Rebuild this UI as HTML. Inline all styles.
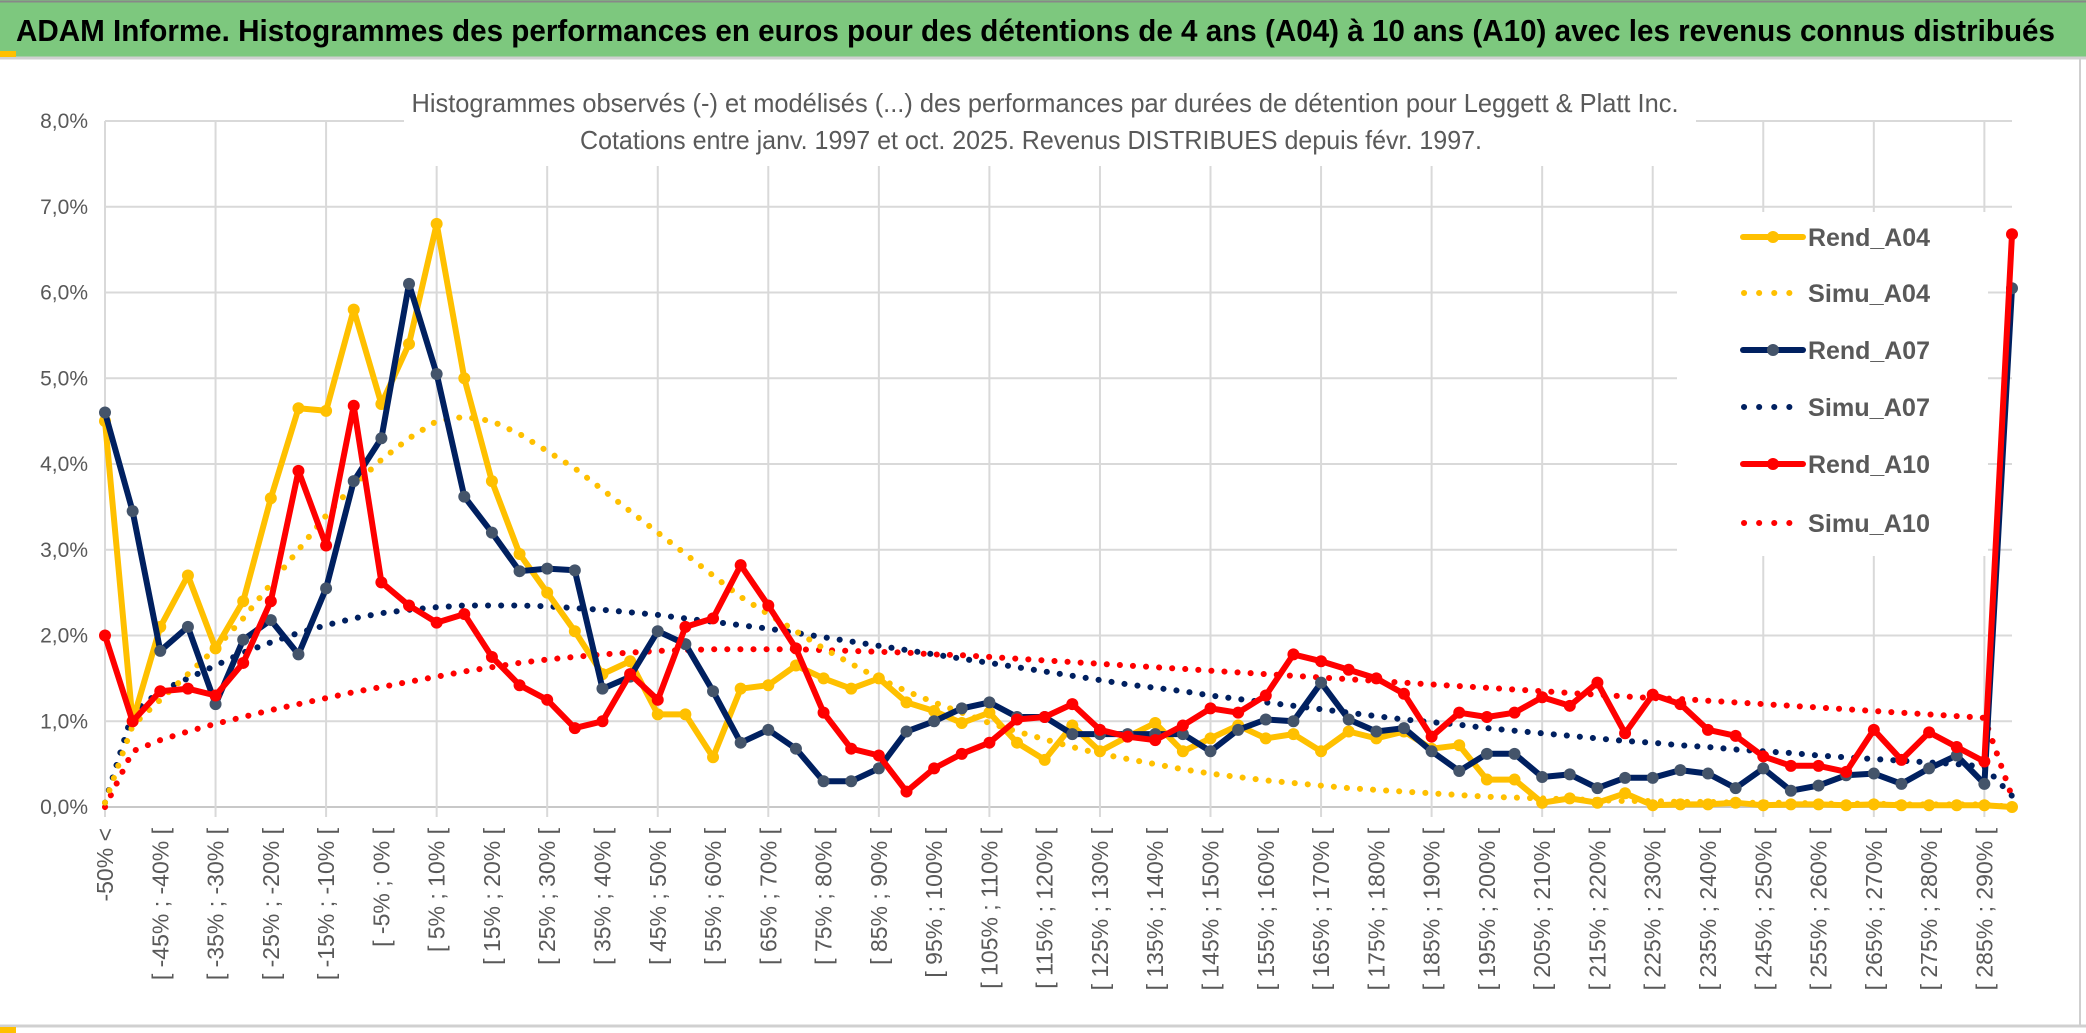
<!DOCTYPE html>
<html><head><meta charset="utf-8"><style>
html,body{margin:0;padding:0;background:#fff;}
svg{display:block;font-family:"Liberation Sans Narrow","Liberation Sans",sans-serif;}
</style></head><body>
<svg id="chart" width="2086" height="1033" viewBox="0 0 2086 1033" xmlns="http://www.w3.org/2000/svg">
<rect x="0" y="0" width="2086" height="1033" fill="#fff"/>
<rect x="0" y="0" width="2086" height="57" fill="#7DC87E"/>
<line x1="0" y1="1.5" x2="2086" y2="1.5" stroke="#888" stroke-width="2"/>
<line x1="0" y1="58" x2="2086" y2="58" stroke="#d0d0d0" stroke-width="3"/>
<rect x="0" y="51" width="16" height="6" fill="#FFC000"/>
<line x1="2080" y1="58" x2="2080" y2="1027" stroke="#cfcfcf" stroke-width="2"/>
<line x1="0" y1="1026" x2="2086" y2="1026" stroke="#d0d0d0" stroke-width="3"/>
<rect x="0" y="1027" width="16" height="6" fill="#FFC000"/>
<text x="16" y="41" font-size="31" font-weight="bold" fill="#000" textLength="2039" lengthAdjust="spacingAndGlyphs">ADAM Informe. Histogrammes des performances en euros pour des détentions de 4 ans (A04) à 10 ans (A10) avec les revenus connus distribués</text>
<g id="grid"></g>
<rect x="404" y="80" width="1292" height="86" fill="#fff"/>
<text x="1045" y="112" font-size="26" fill="#595959" text-anchor="middle" textLength="1267" lengthAdjust="spacingAndGlyphs">Histogrammes observés (-) et modélisés (...) des performances par durées de détention pour Leggett &amp; Platt Inc.</text>
<text x="1031" y="149" font-size="26" fill="#595959" text-anchor="middle" textLength="902" lengthAdjust="spacingAndGlyphs">Cotations entre janv. 1997 et oct. 2025. Revenus DISTRIBUES depuis févr. 1997.</text>
<rect x="1677" y="212" width="311" height="344" fill="#fff"/>
<g id="axes"></g>
<g id="series"></g>
<g id="legend"></g>
</svg>
<script>
const categoriesCount = 70;
const yTicks = [0,1,2,3,4,5,6,7,8];
const rendA04 = [4.5,1.0,2.1,2.7,1.85,2.4,3.6,4.65,4.62,5.8,4.7,5.4,6.8,5.0,3.8,2.95,2.5,2.05,1.55,1.7,1.08,1.08,0.58,1.38,1.42,1.65,1.5,1.38,1.5,1.22,1.12,0.98,1.1,0.75,0.55,0.95,0.65,0.82,0.98,0.65,0.8,0.95,0.8,0.85,0.65,0.88,0.8,0.88,0.68,0.72,0.32,0.32,0.05,0.1,0.05,0.16,0.02,0.03,0.03,0.05,0.02,0.03,0.03,0.02,0.03,0.02,0.02,0.02,0.02,0.0];
const rendA07 = [4.6,3.45,1.82,2.1,1.2,1.95,2.18,1.78,2.55,3.8,4.3,6.1,5.05,3.62,3.2,2.75,2.78,2.76,1.38,1.52,2.05,1.9,1.35,0.75,0.9,0.68,0.3,0.3,0.45,0.88,1.0,1.15,1.22,1.05,1.05,0.85,0.85,0.85,0.85,0.85,0.65,0.9,1.02,1.0,1.45,1.02,0.88,0.92,0.65,0.42,0.62,0.62,0.35,0.38,0.22,0.34,0.34,0.43,0.39,0.22,0.45,0.19,0.25,0.37,0.39,0.27,0.45,0.6,0.27,6.05];
const rendA10 = [2.0,1.0,1.35,1.38,1.3,1.68,2.4,3.92,3.05,4.68,2.62,2.35,2.15,2.25,1.75,1.42,1.25,0.92,1.0,1.55,1.25,2.1,2.2,2.82,2.35,1.85,1.1,0.68,0.6,0.18,0.45,0.62,0.75,1.02,1.05,1.2,0.9,0.82,0.78,0.95,1.15,1.1,1.3,1.78,1.7,1.6,1.5,1.32,0.82,1.1,1.05,1.1,1.28,1.18,1.45,0.86,1.31,1.2,0.9,0.83,0.59,0.48,0.48,0.41,0.9,0.55,0.87,0.7,0.53,6.68];
const simuA04 = [0.05,0.95,1.25,1.55,1.85,2.2,2.6,3.0,3.4,3.75,4.05,4.3,4.5,4.55,4.5,4.35,4.15,3.95,3.7,3.45,3.2,2.95,2.7,2.45,2.25,2.05,1.85,1.67,1.5,1.35,1.22,1.1,0.98,0.88,0.79,0.7,0.62,0.56,0.5,0.44,0.39,0.35,0.31,0.28,0.25,0.22,0.2,0.18,0.16,0.14,0.12,0.11,0.1,0.09,0.08,0.07,0.07,0.06,0.06,0.05,0.05,0.05,0.04,0.04,0.04,0.03,0.03,0.03,0.03,0.0];
const simuA07 = [0.05,1.1,1.35,1.5,1.65,1.8,1.92,2.03,2.12,2.2,2.26,2.3,2.33,2.35,2.35,2.35,2.34,2.32,2.3,2.27,2.24,2.2,2.16,2.12,2.08,2.03,1.98,1.93,1.88,1.83,1.78,1.73,1.68,1.63,1.58,1.53,1.48,1.43,1.39,1.35,1.3,1.26,1.22,1.18,1.14,1.1,1.06,1.02,0.99,0.96,0.92,0.89,0.86,0.83,0.8,0.77,0.75,0.72,0.7,0.67,0.65,0.63,0.6,0.58,0.56,0.54,0.52,0.5,0.47,0.13];
const simuA10 = [0.0,0.65,0.78,0.88,0.97,1.05,1.13,1.2,1.27,1.34,1.4,1.46,1.52,1.58,1.63,1.68,1.72,1.75,1.78,1.8,1.82,1.83,1.84,1.84,1.84,1.84,1.83,1.82,1.81,1.8,1.78,1.77,1.75,1.73,1.71,1.69,1.67,1.65,1.63,1.61,1.59,1.57,1.55,1.53,1.51,1.49,1.47,1.45,1.43,1.41,1.39,1.37,1.35,1.33,1.31,1.29,1.27,1.26,1.24,1.22,1.2,1.18,1.16,1.14,1.12,1.1,1.08,1.06,1.04,0.12];
const seriesNames = ["Rend_A04","Simu_A04","Rend_A07","Simu_A07","Rend_A10","Simu_A10"];

const NS="http://www.w3.org/2000/svg";
const X0=105, X1=2012, Y0=807, YTOP=121;
function xs(i){return X0+(X1-X0)*i/(categoriesCount-1);}
function ys(v){return Y0-(Y0-YTOP)*v/8;}
function mk(tag,attrs,parent){const e=document.createElementNS(NS,tag);for(const k in attrs)e.setAttribute(k,attrs[k]);parent.appendChild(e);return e;}
function catLabel(i){
  if(i===0) return "-50% <";
  if(i===categoriesCount-1) return "> 290%";
  const a=-55+5*i, b=a+5;
  return "[ "+a+"% ; "+b+"% [";
}
const grid=document.getElementById('grid');
yTicks.forEach(t=>{
  const l=mk('line',{x1:X0,y1:ys(t),x2:X1,y2:ys(t),stroke:t===0?'#c8c8c8':'#d9d9d9','stroke-width':2},grid);
  
  
});
for(let i=0;i<categoriesCount;i+=4){
  const l=mk('line',{x1:xs(i),y1:YTOP,x2:xs(i),y2:Y0+10,stroke:'#d9d9d9','stroke-width':2},grid);
  
  
}
const axes=document.getElementById('axes');
yTicks.forEach(t=>{
  const tx=mk('text',{x:88,y:ys(t)+7,'font-size':21,fill:'#595959','text-anchor':'end'},axes);
  tx.textContent=t.toFixed(1).replace('.',',')+'%';
  
  
});
for(let i=0;i<categoriesCount-1;i+=2){
  const x=xs(i)+8, y=828;
  const tx=mk('text',{x:x,y:y,'font-size':23,fill:'#595959','text-anchor':'end',transform:'rotate(-90 '+x+' '+y+')',style:'font-family:"Liberation Sans",sans-serif'},axes);
  tx.textContent=catLabel(i);
  
  
}
const series=document.getElementById('series');
function drawSimu(data,color,name){
  const p=data.map((v,i)=>xs(i).toFixed(1)+','+ys(v).toFixed(1)).join(' ');
  const pl=mk('polyline',{points:p,fill:'none',stroke:color,'stroke-width':6,'stroke-linecap':'round','stroke-dasharray':'0.1 13'},series);
  
  
}
function drawRend(data,color,mfill,name){
  const g=mk('g',{},series);
  
  
  const p=data.map((v,i)=>xs(i).toFixed(1)+','+ys(v).toFixed(1)).join(' ');
  mk('polyline',{points:p,fill:'none',stroke:color,'stroke-width':6,'stroke-linejoin':'round'},g);
  data.forEach((v,i)=>{
    const c=mk('circle',{cx:xs(i),cy:ys(v),r:6,fill:mfill},g);
    
    
  });
}
drawSimu(simuA10,'#FF0000','simu-a10-line');
drawSimu(simuA07,'#002060','simu-a07-line');
drawSimu(simuA04,'#FFC000','simu-a04-line');
drawRend(rendA04,'#FFC000','#FFC000','rend-a04-line');
drawRend(rendA07,'#002060','#44546A','rend-a07-line');
drawRend(rendA10,'#FF0000','#FF0000','rend-a10-line');

const legend=document.getElementById('legend');
const legY=[237,293,350,407,464,523];
const legColor=['#FFC000','#FFC000','#002060','#002060','#FF0000','#FF0000'];
const legMarker=['#FFC000',null,'#44546A',null,'#FF0000',null];
seriesNames.forEach((n,k)=>{
  const g=mk('g',{},legend);
  
  
  const y=legY[k];
  if(n.startsWith('Rend')){
    mk('line',{x1:1743,y1:y,x2:1803,y2:y,stroke:legColor[k],'stroke-width':6,'stroke-linecap':'round'},g);
    mk('circle',{cx:1773,cy:y,r:6,fill:legMarker[k]},g);
  } else {
    mk('line',{x1:1744,y1:y,x2:1803,y2:y,stroke:legColor[k],'stroke-width':6,'stroke-linecap':'round','stroke-dasharray':'0.1 15'},g);
  }
  const t=mk('text',{x:1808,y:y+9,'font-size':25,'font-weight':'bold',fill:'#595959',textLength:122,lengthAdjust:'spacingAndGlyphs',style:'font-family:"Liberation Sans",sans-serif'},g);
  t.textContent=n;
});
</script>
</body></html>
